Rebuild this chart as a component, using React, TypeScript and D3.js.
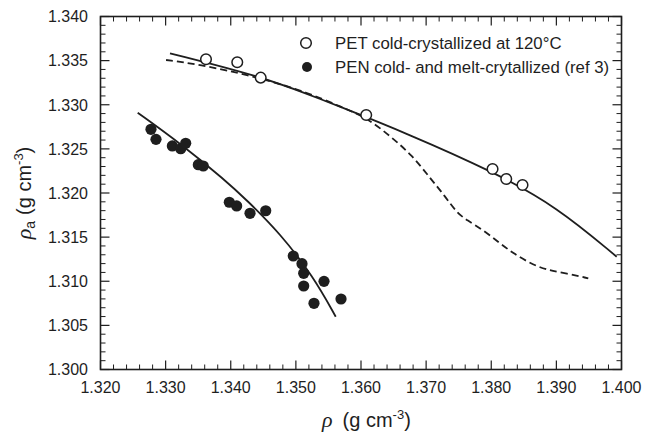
import React from "react";
import * as d3 from "d3";

// PET cold-crystallized at 120°C (open circles)
const petX = [1.3362, 1.3410, 1.3446, 1.3608, 1.3802, 1.3823, 1.3848];
const petY = [1.33515, 1.33481, 1.33307, 1.32884, 1.32272, 1.32159, 1.32091];

// PEN cold- and melt-crystallized (filled circles)
const penX = [1.32775, 1.32852, 1.33103, 1.33232, 1.33308, 1.33502, 1.33578, 1.33978, 1.34091, 1.34296, 1.34537, 1.3496, 1.35094, 1.3512, 1.3512, 1.35432, 1.35278, 1.35693];
const penY = [1.32722, 1.32608, 1.32533, 1.32502, 1.32563, 1.32321, 1.32306, 1.31895, 1.31853, 1.3177, 1.31799, 1.31286, 1.31199, 1.3109, 1.30946, 1.30999, 1.3075, 1.30799];

// Fitted curves
const penFitX = [1.32571, 1.33221, 1.33912, 1.34245, 1.34757, 1.35268, 1.35612];
const penFitY = [1.3291, 1.32565, 1.32147, 1.3192, 1.31543, 1.31052, 1.30598];

const petFitX = [1.33067, 1.3446, 1.35217, 1.35678, 1.36702, 1.38032, 1.39005, 1.39926];
const petFitY = [1.33583, 1.3332, 1.3311, 1.32978, 1.32676, 1.32241, 1.31845, 1.31278];

const dashX = [1.33007, 1.33477, 1.34398, 1.35217, 1.35678, 1.36077, 1.36445, 1.36783, 1.37059, 1.37289, 1.37473, 1.37627, 1.37873, 1.38134, 1.38339, 1.38595, 1.38851, 1.39158, 1.3949];
const dashY = [1.33507, 1.33462, 1.33318, 1.3313, 1.32978, 1.32861, 1.32646, 1.3243, 1.3217, 1.31966, 1.31773, 1.31694, 1.31581, 1.3143, 1.31317, 1.31203, 1.31127, 1.3109, 1.31033];

const xTicks = [1.32, 1.33, 1.34, 1.35, 1.36, 1.37, 1.38, 1.39, 1.4];
const yTicks = [1.3, 1.305, 1.31, 1.315, 1.32, 1.325, 1.33, 1.335, 1.34];
const legendLabels = ["PET cold-crystallized at 120°C", "PEN cold- and melt-crytallized (ref 3)"];

const W = 647, H = 436;
const L = 100.5, R = 621.5, T = 16.5, B = 369.5;
const INK = "#1e1e1e";
const SANS = "'Liberation Sans', Arial, Helvetica, sans-serif";

export default function App() {
  const x = d3.scaleLinear().domain([1.32, 1.4]).range([L, R]);
  const y = d3.scaleLinear().domain([1.3, 1.34]).range([B, T]);

  const xMinor = d3.range(0, 41).map((i) => 1.32 + i * 0.002).filter((_, i) => i % 5 !== 0);
  const yMinor = d3.range(0, 41).map((i) => 1.3 + i * 0.001).filter((_, i) => i % 5 !== 0);

  const smooth = d3
    .line<[number, number]>()
    .x((d) => x(d[0]))
    .y((d) => y(d[1]))
    .curve(d3.curveBasis);

  const zip = (a: number[], b: number[]) => a.map((v, i) => [v, b[i]] as [number, number]);

  return (
    <svg width={W} height={H} style={{ position: "absolute", left: 0, top: 0, background: "#fff" }}>
      <rect x={0} y={0} width={W} height={H} fill="#fff" />
      {/* frame */}
      <rect x={L} y={T} width={R - L} height={B - T} fill="none" stroke={INK} strokeWidth={1.6} />
      {/* x ticks */}
      {xTicks.map((t) => (
        <g key={"xt" + t}>
          <line x1={x(t)} x2={x(t)} y1={B} y2={B - 9} stroke={INK} strokeWidth={1.2} />
          <line x1={x(t)} x2={x(t)} y1={T} y2={T + 9} stroke={INK} strokeWidth={1.2} />
          <text x={x(t)} y={393} textAnchor="middle" fontFamily={SANS} fontSize={16} fill={INK}>
            {d3.format(".3f")(t)}
          </text>
        </g>
      ))}
      {xMinor.map((t) => (
        <g key={"xm" + t}>
          <line x1={x(t)} x2={x(t)} y1={B} y2={B - 5} stroke={INK} strokeWidth={1} />
          <line x1={x(t)} x2={x(t)} y1={T} y2={T + 5} stroke={INK} strokeWidth={1} />
        </g>
      ))}
      {/* y ticks */}
      {yTicks.map((t) => (
        <g key={"yt" + t}>
          <line x1={L} x2={L + 9} y1={y(t)} y2={y(t)} stroke={INK} strokeWidth={1.2} />
          <line x1={R} x2={R - 9} y1={y(t)} y2={y(t)} stroke={INK} strokeWidth={1.2} />
          <text x={88} y={y(t)} dy="0.36em" textAnchor="end" fontFamily={SANS} fontSize={16} fill={INK}>
            {d3.format(".3f")(t)}
          </text>
        </g>
      ))}
      {yMinor.map((t) => (
        <g key={"ym" + t}>
          <line x1={L} x2={L + 5} y1={y(t)} y2={y(t)} stroke={INK} strokeWidth={1} />
          <line x1={R} x2={R - 5} y1={y(t)} y2={y(t)} stroke={INK} strokeWidth={1} />
        </g>
      ))}

      {/* curves */}
      <path d={smooth(zip(dashX, dashY)) || ""} fill="none" stroke={INK} strokeWidth={1.8} strokeDasharray="7,4" />
      <path d={smooth(zip(petFitX, petFitY)) || ""} fill="none" stroke={INK} strokeWidth={1.8} />
      <path d={smooth(zip(penFitX, penFitY)) || ""} fill="none" stroke={INK} strokeWidth={1.8} />

      {/* points */}
      {petX.map((v, i) => (
        <circle key={"p" + i} cx={x(v)} cy={y(petY[i])} r={5.3} fill="#fff" stroke={INK} strokeWidth={1.5} />
      ))}
      {penX.map((v, i) => (
        <circle key={"n" + i} cx={x(v)} cy={y(penY[i])} r={5.6} fill={INK} />
      ))}

      {/* legend */}
      <circle cx={306} cy={43} r={5.3} fill="#fff" stroke={INK} strokeWidth={1.5} />
      <circle cx={307} cy={67} r={5} fill={INK} />
      <text x={335} y={49} fontFamily={SANS} fontSize={16.8} fill={INK}>
        {legendLabels[0]}
      </text>
      <text x={335} y={73} fontFamily={SANS} fontSize={16.8} fill={INK}>
        {legendLabels[1]}
      </text>

      {/* axis titles */}
      <text x={322} y={427} fontFamily={SANS} fontSize={20} fill={INK}>
        <tspan fontFamily="'Liberation Serif', 'DejaVu Serif', serif" fontStyle="italic" fontSize={22}>ρ</tspan>
        <tspan dx={10}>(g cm</tspan>
        <tspan fontSize={13} dy={-8}>-3</tspan>
        <tspan dy={8}>)</tspan>
      </text>
      <text transform={`translate(31,${(T + B) / 2}) rotate(-90)`} textAnchor="middle" fontFamily={SANS} fontSize={20} fill={INK}>
        <tspan fontFamily="'Liberation Serif', 'DejaVu Serif', serif" fontStyle="italic" fontSize={22}>ρ</tspan>
        <tspan fontSize={14} dy={4}>a</tspan>
        <tspan dx={6} dy={-4}>(g cm</tspan>
        <tspan fontSize={13} dy={-8}>-3</tspan>
        <tspan dy={8}>)</tspan>
      </text>
    </svg>
  );
}
